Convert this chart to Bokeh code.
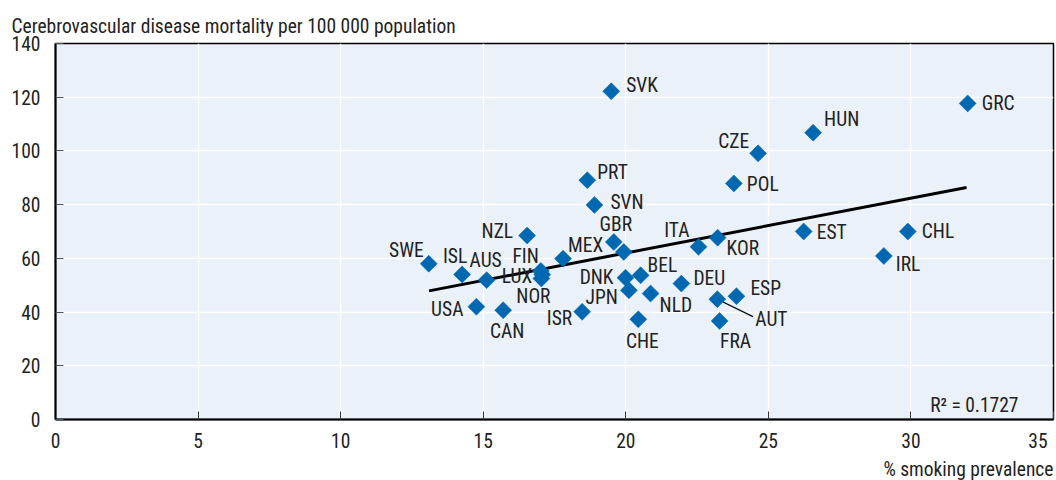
from bokeh.plotting import figure
from bokeh.models import ColumnDataSource, Label, Range1d, FixedTicker, Title
from bokeh.core.properties import value, field
from bokeh.embed import file_html
from bokeh.resources import INLINE
import numpy as np

# ---------------- data ----------------
countries = ["SWE", "ISL", "AUS", "USA", "CAN", "NZL", "FIN", "LUX", "NOR", "MEX",
             "GBR", "TUR", "SVN", "PRT", "SVK", "ISR", "DNK", "JPN", "BEL", "NLD",
             "CHE", "DEU", "ITA", "KOR", "AUT", "ESP", "FRA", "POL", "CZE", "HUN",
             "EST", "IRL", "CHL", "GRC"]
smoking = [13.09, 14.26, 15.12, 14.76, 15.70, 16.54, 17.02, 17.07, 17.04, 17.80,
           19.58, 19.93, 18.90, 18.65, 19.49, 18.47, 19.99, 20.11, 20.52, 20.87,
           20.44, 21.95, 22.55, 23.22, 23.21, 23.88, 23.29, 23.79, 24.64, 26.57,
           26.24, 29.05, 29.89, 31.99]
mortality = [58.0, 54.0, 51.9, 42.0, 40.7, 68.5, 55.3, 54.0, 52.5, 59.9,
             66.1, 62.4, 79.9, 89.1, 122.2, 40.1, 52.8, 48.1, 53.7, 46.9,
             37.3, 50.6, 64.3, 67.7, 44.8, 45.9, 36.7, 87.9, 99.1, 106.8,
             70.0, 60.9, 70.0, 117.7]
trend_x = [13.1, 31.95]
trend_y = [47.9, 86.4]
r2_text = "R\u00b2 = 0.1727"
x_ticks = [0, 5, 10, 15, 20, 25, 30, 35]
y_ticks = [0, 20, 40, 60, 80, 100, 120, 140]
title_text = "Cerebrovascular disease mortality per 100 000 population"
xlabel_text = "% smoking prevalence"

# ---------------- label placement (pixel offsets, style only) ----------------
LABEL_POS = {
    "SWE": ("right", -5, -13), "ISL": ("center", -7, -18), "AUS": ("center", -1, -20),
    "USA": ("right", -13, 3), "CAN": ("center", 4, 21), "NZL": ("right", -14, -4),
    "FIN": ("right", -2, -14), "LUX": ("right", -10, 2), "NOR": ("center", -8, 18),
    "MEX": ("left", 5, -13), "GBR": ("center", 2, -17), "SVN": ("left", 16, -2),
    "PRT": ("left", 10, -8), "SVK": ("left", 15, -6), "ISR": ("right", -10, 7),
    "DNK": ("right", -12, 0), "JPN": ("right", -11, 7), "BEL": ("left", 7, -10),
    "NLD": ("left", 9, 12), "CHE": ("center", 4, 22), "DEU": ("left", 12, -5),
    "ITA": ("right", -9, -16), "KOR": ("left", 9, 11), "AUT": ("left", 38, 20),
    "ESP": ("left", 14, -8), "FRA": ("center", 16, 21), "POL": ("left", 13, 1),
    "CZE": ("right", -9, -12), "HUN": ("left", 11, -13), "EST": ("left", 13, 1),
    "CHL": ("left", 14, 0), "IRL": ("left", 12, 9), "GRC": ("left", 14, 0),
}
AUT_LEADER = (1.25, -6.5)  # leader-line vector in data units

FONT = "'Liberation Sans Narrow', 'Arial Narrow', 'Roboto Condensed', sans-serif"
FS = "19.5px"
BLUE = "#0067b1"
BG = "#eaf1f9"
TXT = "#222222"

labels, aligns, dxs, dys = [], [], [], []
for c in countries:
    a, dx, dy = LABEL_POS.get(c, ("left", 0, 0))
    labels.append(c if c in LABEL_POS else "")
    aligns.append(a)
    dxs.append(dx)
    dys.append(dy)

src = ColumnDataSource(dict(x=smoking, y=mortality, label=labels,
                            align=aligns, dx=dxs, dy=dys))

p = figure(width=1056, height=480, x_range=Range1d(0, 35), y_range=Range1d(0, 140),
           output_backend="svg", toolbar_location=None,
           min_border_left=55, min_border_right=3, min_border_top=43,
           min_border_bottom=59)
p.background_fill_color = BG
p.border_fill_color = "white"
p.outline_line_color = "black"
p.outline_line_width = 1.5

# title (top-left)
p.title.text = title_text
p.title.align = "left"
p.title.offset = -44
p.title.standoff = 12
p.title.text_font = FONT
p.title.text_font_size = FS
p.title.text_font_style = "normal"
p.title.text_color = TXT

for ax in (p.xaxis[0], p.yaxis[0]):
    ax.major_label_text_font = FONT
    ax.major_label_text_font_size = FS
    ax.major_label_text_color = TXT
    ax.major_tick_in = 8
    ax.major_tick_out = 0
    ax.minor_tick_in = 0
    ax.minor_tick_out = 0
    ax.axis_line_color = "black"
    ax.axis_line_width = 2
p.xaxis.major_label_standoff = 10
p.yaxis.major_label_standoff = 15
p.xaxis.ticker = FixedTicker(ticks=x_ticks)
p.yaxis.ticker = FixedTicker(ticks=y_ticks)
p.xaxis.major_label_overrides = {35: "35" + "\u00a0" * 2}
p.xaxis.major_tick_line_color = "#333333"
p.yaxis.major_tick_line_color = "#555555"
p.xaxis.major_tick_line_width = 1
p.yaxis.major_tick_line_width = 1

p.xgrid.ticker = FixedTicker(ticks=x_ticks)
p.ygrid.ticker = FixedTicker(ticks=y_ticks)
p.grid.grid_line_color = "white"
p.grid.grid_line_width = 1.5

# x-axis label (bottom-right)
p.add_layout(Title(text=xlabel_text, align="right", text_font=FONT,
                   text_font_size=FS, text_font_style="normal",
                   text_color=TXT, standoff=0), "below")

# trend line
p.line(trend_x, trend_y, line_color="black", line_width=3)

# leader line for AUT
i_aut = countries.index("AUT")
p.segment(x0=[smoking[i_aut]], y0=[mortality[i_aut]],
          x1=[smoking[i_aut] + AUT_LEADER[0]], y1=[mortality[i_aut] + AUT_LEADER[1]],
          line_color="black", line_width=1.2)

# points
p.scatter(x="x", y="y", source=src, marker="square", size=12, angle=np.pi / 4,
          fill_color=BLUE, line_color=BLUE, line_width=0.5)

# country labels
p.text(x="x", y="y", text="label", source=src, x_offset="dx", y_offset="dy",
       text_align=field("align"), text_baseline="middle",
       text_font=value(FONT), text_font_size=FS, text_color=TXT)

# R squared
p.add_layout(Label(x=35, y=0, x_offset=-35, y_offset=14, text=r2_text,
                   text_font=FONT, text_font_size=FS, text_color=TXT,
                   text_align="right", text_baseline="middle"))

open("out.html", "w").write(file_html(p, INLINE))
